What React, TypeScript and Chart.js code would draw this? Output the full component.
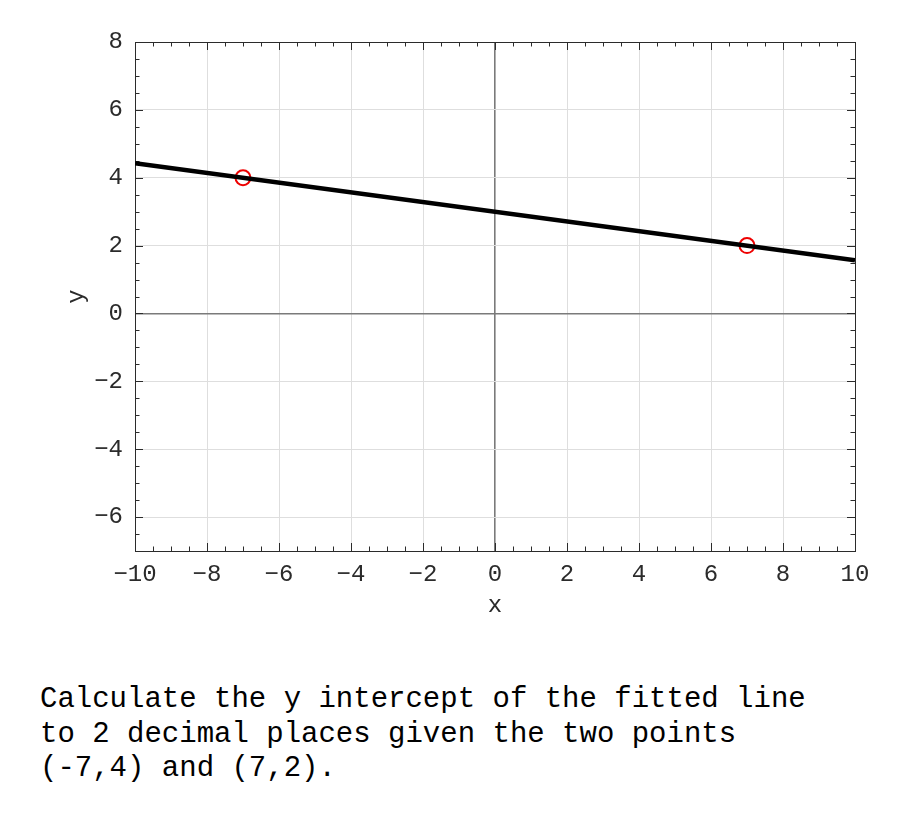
import React, { useEffect, useRef } from "react";
import { Chart, registerables } from "chart.js";

Chart.register(...registerables);

// Fitted line endpoints
const fitX = [-10, 10];
const fitY = [4.43, 1.57];
// Given points
const pointX = [-7, 7];
const pointY = [4, 2];
// Axis ranges
const xRange = [-10, 10];
const yRange = [-7, 8];
const majorStep = 2;
const minorStep = 0.5;

const questionLines = [
  "Calculate the y intercept of the fitted line",
  "to 2 decimal places given the two points",
  "(-7,4) and (7,2).",
];

const TICK_FONT = "Liberation Mono";
const TICK_COLOR = "#2b2b2b";

const fmt = (v: number) => (v < 0 ? "\u2212" + Math.abs(v) : String(v));

const boxPlugin = {
  id: "boxTicks",
  beforeDatasetsDraw(chart: any) {
    const { ctx, chartArea } = chart;
    const xs = chart.scales.x;
    const ys = chart.scales.y;
    const { left, right, top, bottom } = chartArea;
    ctx.save();
    ctx.strokeStyle = TICK_COLOR;
    ctx.lineWidth = 1;
    ctx.beginPath();
    for (let v = xRange[0]; v <= xRange[1] + 1e-9; v += minorStep) {
      const isMajor = Math.abs(v / majorStep - Math.round(v / majorStep)) < 1e-9;
      const len = isMajor ? 8 : 4.5;
      const px = Math.round(xs.getPixelForValue(v)) + 0.5;
      ctx.moveTo(px, bottom);
      ctx.lineTo(px, bottom - len);
      ctx.moveTo(px, top);
      ctx.lineTo(px, top + len);
    }
    for (let v = yRange[0]; v <= yRange[1] + 1e-9; v += minorStep) {
      const isMajor = Math.abs(v / majorStep - Math.round(v / majorStep)) < 1e-9;
      const len = isMajor ? 8 : 4.5;
      const py = Math.round(ys.getPixelForValue(v)) + 0.5;
      ctx.moveTo(left, py);
      ctx.lineTo(left + len, py);
      ctx.moveTo(right, py);
      ctx.lineTo(right - len, py);
    }
    ctx.stroke();
    ctx.strokeRect(Math.round(left) + 0.5, Math.round(top) + 0.5, Math.round(right - left), Math.round(bottom - top));
    ctx.restore();
  },
};

export default function App() {
  const canvasRef = useRef<HTMLCanvasElement | null>(null);

  useEffect(() => {
    const canvas = canvasRef.current;
    if (!canvas) return;
    const gridColor = (c: any) =>
      c.tick && c.tick.value === 0 ? "#7a7a7a" : "#dedede";
    const gridWidth = (c: any) => (c.tick && c.tick.value === 0 ? 1.6 : 1);
    const chart = new Chart(canvas, {
      type: "line",
      data: {
        datasets: [
          {
            type: "line",
            data: fitX.map((x, i) => ({ x, y: fitY[i] })),
            borderColor: "#000000",
            borderWidth: 4.5,
            pointRadius: 0,
            fill: false,
          },
          {
            type: "scatter",
            data: pointX.map((x, i) => ({ x, y: pointY[i] })),
            borderColor: "#ee0000",
            backgroundColor: "rgba(0,0,0,0)",
            borderWidth: 2,
            pointRadius: 7.5,
            showLine: false,
          },
        ],
      },
      options: {
        animation: false,
        responsive: false,
        devicePixelRatio: 1,
        layout: { padding: { left: 0, right: 45, top: 42, bottom: 0 } },
        plugins: { legend: { display: false }, tooltip: { enabled: false } },
        scales: {
          x: {
            type: "linear",
            min: xRange[0],
            max: xRange[1],
            afterFit: (s: any) => {
              s.height = 99;
            },
            border: { display: false },
            grid: { color: gridColor, lineWidth: gridWidth, drawTicks: false },
            ticks: {
              stepSize: majorStep,
              includeBounds: false,
              maxRotation: 0,
              padding: 9,
              color: TICK_COLOR,
              font: { family: TICK_FONT, size: 24 },
              callback: (v: any) => fmt(Number(v)),
            },
            title: {
              display: true,
              text: "x",
              color: TICK_COLOR,
              font: { family: TICK_FONT, size: 24 },
              padding: { top: 0, bottom: 30 },
            },
          },
          y: {
            type: "linear",
            min: yRange[0],
            max: yRange[1],
            afterFit: (s: any) => {
              s.width = 135;
            },
            border: { display: false },
            grid: { color: gridColor, lineWidth: gridWidth, drawTicks: false },
            ticks: {
              stepSize: majorStep,
              includeBounds: false,
              padding: 12,
              color: TICK_COLOR,
              font: { family: TICK_FONT, size: 24 },
              callback: (v: any) => fmt(Number(v)),
            },
            title: {
              display: true,
              text: "y",
              color: TICK_COLOR,
              font: { family: TICK_FONT, size: 24 },
              padding: { top: 62, bottom: 0 },
            },
          },
        },
      } as any,
      plugins: [boxPlugin],
    });
    return () => chart.destroy();
  }, []);

  return (
    <div style={{ position: "fixed", left: 0, top: 0, width: 900, height: 825, background: "#fff" }}>
      <canvas
        ref={canvasRef}
        width={900}
        height={650}
        style={{ position: "absolute", left: 0, top: 0, width: 900, height: 650 }}
      />
      <div
        style={{
          position: "absolute",
          left: 40,
          top: 683,
          fontFamily: "'Liberation Mono', monospace",
          fontSize: 29,
          lineHeight: "34.5px",
          color: "#000",
          whiteSpace: "pre",
        }}
      >
        {questionLines.map((l, i) => (
          <div key={i}>{l}</div>
        ))}
      </div>
    </div>
  );
}
